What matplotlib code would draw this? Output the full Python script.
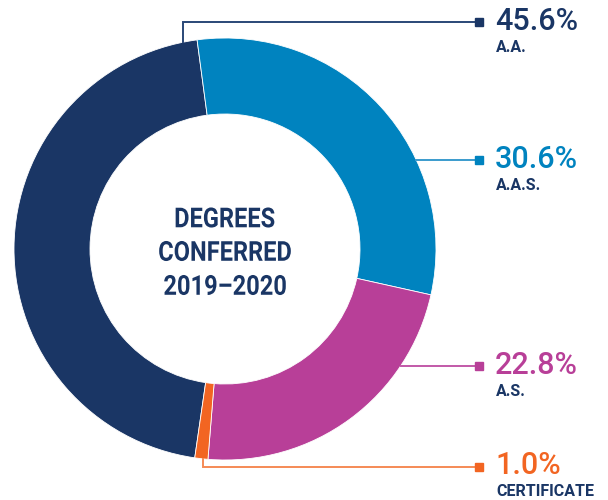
import numpy as np
import matplotlib.pyplot as plt
from matplotlib.textpath import TextPath
from matplotlib.font_manager import FontProperties
from matplotlib.patches import PathPatch
from matplotlib.transforms import Affine2D

labels = ['A.A.', 'A.A.S.', 'A.S.', 'CERTIFICATE']
values = [45.6, 30.6, 22.8, 1.0]
colors = ['#1a3665', '#0083bf', '#b83f98', '#f26522']
line_colors = ['#2a4777', '#3a9bcd', '#c259a8', '#f58a55']
# angle on the ring where each leader line starts
anchor_angles = [101.5, 25, -33.5, -96.0]
# label rows (pixel y from top)
label_y = [22, 160, 366, 467]

title_lines = ['DEGREES', 'CONFERRED', '2019\u20132020']
title_y = [217.5, 251, 285]

W, H = 608, 500
cx, cy, R, r_in = 225, H - 249, 211, 135

fig = plt.figure(figsize=(6.08, 5.0), dpi=100)
ax = fig.add_axes([0, 0, 1, 1])

# A.A. ends at the top-left boundary, going clockwise
start = 97.6 + 360 * values[0] / 100
ax.pie(values, colors=colors, startangle=start, counterclock=False,
       center=(cx, cy), radius=R, frame=True,
       wedgeprops=dict(width=R - r_in, linewidth=0.6, edgecolor='white'))
ax.set_xlim(0, W)
ax.set_ylim(0, H)
ax.set_aspect('equal')
ax.axis('off')

# condensed-looking centre title: squeeze bold text paths horizontally
fp = FontProperties(family='Roboto', weight='bold')
for line, ly in zip(title_lines, title_y):
    tp = TextPath((0, 0), line, size=27.5, prop=fp)
    ext = tp.get_extents()
    tr = (Affine2D().translate(-(ext.x0 + ext.x1) / 2, -(ext.y0 + ext.y1) / 2)
          .scale(0.86, 1.0).translate(cx, H - ly))
    ax.add_patch(PathPatch(tr.transform_path(tp), color='#1a3665', lw=0))

x_mark = 479
x_text = 495
for i, (lab, val) in enumerate(zip(labels, values)):
    a = np.deg2rad(anchor_angles[i])
    px = cx + R * np.cos(a)
    py = cy + R * np.sin(a)
    ty = H - label_y[i]
    if i in (0, 3):
        xs = [px, px, x_mark]
        ys = [py, ty, ty]
    else:
        xs = [px, x_mark]
        ys = [ty, ty]
    ax.plot(xs, ys, color=line_colors[i], lw=1.4, solid_joinstyle='miter', zorder=1)
    ax.plot([x_mark], [ty], marker='s', ms=6, color=colors[i], zorder=2)
    ax.text(x_text, ty + 1, f'{val:.1f}%', ha='left', va='center', fontsize=22,
            color=colors[i], family=['Roboto', 'DejaVu Sans'], fontweight='medium')
    ax.text(x_text + 1, ty - 25, lab, ha='left', va='center', fontsize=11.5,
            color='#1a3665', family=['Roboto', 'DejaVu Sans'], fontweight='bold')

fig.savefig('out.png', dpi=100)
